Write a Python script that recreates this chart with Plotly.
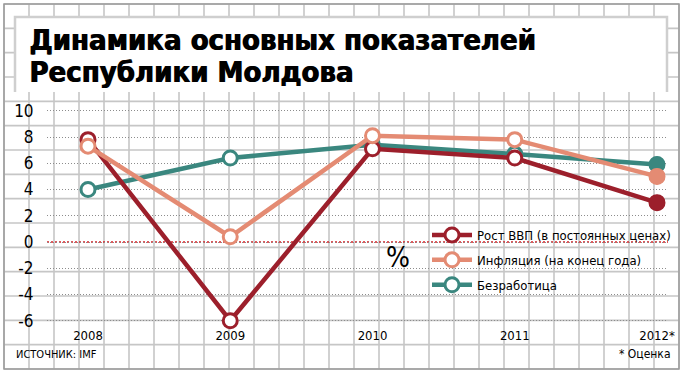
import plotly.graph_objects as go

W, H = 687, 377

years = [2008, 2009, 2010, 2011, 2012]
year_labels = ["2008", "2009", "2010", "2011", "2012*"]
gdp = [7.8, -6.0, 7.1, 6.4, 3.0]
inflation = [7.3, 0.4, 8.1, 7.8, 5.0]
unemployment = [4.0, 6.4, 7.4, 6.7, 5.9]
y_ticks = [-6, -4, -2, 0, 2, 4, 6, 8, 10]
y_tick_labels = ["-6", "-4", "-2", "0", "2", "4", "6", "8", "10"]

names = ["Рост ВВП (в постоянных ценах)", "Инфляция (на конец года)", "Безработица"]
colors = ["#9c1f2b", "#e48b73", "#3a877f"]
series = [gdp, inflation, unemployment]

NARROW = "Liberation Sans Narrow, Arial Narrow, DejaVu Sans Condensed, sans-serif"
TITLE_FONT = "DejaVu Sans Condensed, DejaVu Sans, sans-serif"

def px(x):
    return x / W

def py(y):
    return 1 - y / H

fig = go.Figure()

# draw order: teal bottom, red, salmon on top; legend order by rank
order = [2, 0, 1]
for i in order:
    c = colors[i]
    fig.add_trace(go.Scatter(
        x=years, y=series[i], name=names[i], mode="lines+markers",
        line=dict(color=c, width=4.5),
        marker=dict(color="white", size=14, line=dict(color=c, width=3)),
        legendrank=i + 1, legendgroup=str(i), cliponaxis=False,
    ))
    # estimated final year: filled marker
    fig.add_trace(go.Scatter(
        x=years[-1:], y=series[i][-1:], mode="markers", showlegend=False,
        marker=dict(color=c, size=16, line=dict(color=c, width=0)),
        legendgroup=str(i), cliponaxis=False, hoverinfo="skip",
    ))

shapes = []
# graph-paper grid
x0g, x1g, y0g, y1g = 4, 679, 4, 369
nx, ny = 27, 15
for k in range(nx + 1):
    xv = x0g + (x1g - x0g) * k / nx
    shapes.append(dict(type="line", xref="paper", yref="paper", x0=px(xv), x1=px(xv),
                       y0=py(y0g), y1=py(y1g), line=dict(color="#c6c6c6", width=1.6), layer="below"))
for k in range(ny + 1):
    yv = y0g + (y1g - y0g) * k / ny
    shapes.append(dict(type="line", xref="paper", yref="paper", x0=px(x0g), x1=px(x1g),
                       y0=py(yv), y1=py(yv), line=dict(color="#c6c6c6", width=1.6), layer="below"))
# title box
shapes.append(dict(type="rect", xref="paper", yref="paper", x0=px(15), x1=px(667), y0=py(92), y1=py(17),
                   fillcolor="white", line=dict(width=0), layer="below"))
shapes.append(dict(type="path", xref="paper", yref="paper",
                   path=f"M{px(15)},{py(92)} L{px(15)},{py(17)} L{px(667)},{py(17)} L{px(667)},{py(92)}",
                   line=dict(color="#cfcfcf", width=2.5), layer="below"))
# outer frame
shapes.append(dict(type="rect", xref="paper", yref="paper", x0=px(x0g), x1=px(x1g), y0=py(y1g), y1=py(y0g),
                   line=dict(color="#9a9a9a", width=1.5), layer="below"))
# zero line (red dotted)
shapes.append(dict(type="line", xref="paper", yref="y", x0=px(47), x1=px(668), y0=0, y1=0,
                   line=dict(color="#d2262a", width=1.5, dash="2px,2px"), layer="below"))

title_lines = [("Динамика основных показателей", 21), ("Республики Молдова", 53)]
annotations = []
for txt, ytop in title_lines:
    for dx in (0, 0.9):
        annotations.append(dict(text=f"<b>{txt}</b>", xref="paper", yref="paper", x=px(27 + dx), y=py(ytop),
                                xanchor="left", yanchor="top", showarrow=False,
                                font=dict(family=TITLE_FONT, size=29, color="black")))
annotations += [
    dict(text="%", xref="paper", yref="paper", x=px(398), y=py(257), xanchor="center", yanchor="middle",
         showarrow=False, font=dict(family=NARROW, size=28, color="black")),
    dict(text="ИСТОЧНИК: IMF", xref="paper", yref="paper", x=px(14), y=py(354), xanchor="left",
         yanchor="middle", showarrow=False, font=dict(family=NARROW, size=11, color="black")),
    dict(text="* Оценка", xref="paper", yref="paper", x=px(673), y=py(354), xanchor="right",
         yanchor="middle", showarrow=False, font=dict(family=NARROW, size=12, color="black")),
]

# axis geometry
ppu = 13.125
y_zero_px = 242
top_px, bot_px = 100, 326
left_px, right_px = 47, 668
ppyear = 142.25
x_start = 2008 - (88 - left_px) / ppyear
x_end = x_start + (right_px - left_px) / ppyear

fig.update_layout(
    width=W, height=H,
    margin=dict(l=0, r=0, t=0, b=0),
    paper_bgcolor="white", plot_bgcolor="rgba(0,0,0,0)",
    shapes=shapes, annotations=annotations,
    showlegend=True,
    legend=dict(x=px(427), y=py(220), xanchor="left", yanchor="top", bgcolor="rgba(0,0,0,0)",
                font=dict(family=NARROW, size=13, color="black"), tracegroupgap=5,
                traceorder="grouped", itemwidth=40),
    xaxis=dict(domain=[px(left_px), px(right_px)], range=[x_start, x_end],
               tickvals=years, ticktext=year_labels, showgrid=False, zeroline=False,
               showline=False, ticks="",
               tickfont=dict(family=NARROW, size=13, color="black"), automargin=False,
               fixedrange=True),
    yaxis=dict(domain=[py(bot_px), py(top_px)],
               range=[-(bot_px - y_zero_px) / ppu, (y_zero_px - top_px) / ppu],
               tickvals=y_ticks, ticktext=y_tick_labels, showgrid=True, gridcolor="#8c8c8c",
               griddash="1px,2px", gridwidth=1.3, zeroline=False, showline=False,
               ticks="outside", ticklen=9, tickcolor="rgba(0,0,0,0)",
               tickfont=dict(family=NARROW, size=17, color="black"), automargin=False,
               fixedrange=True),
)

fig.write_html("out.html", config={"displayModeBar": False},
               post_script="document.body.style.margin='0';document.body.style.overflow='hidden';")
